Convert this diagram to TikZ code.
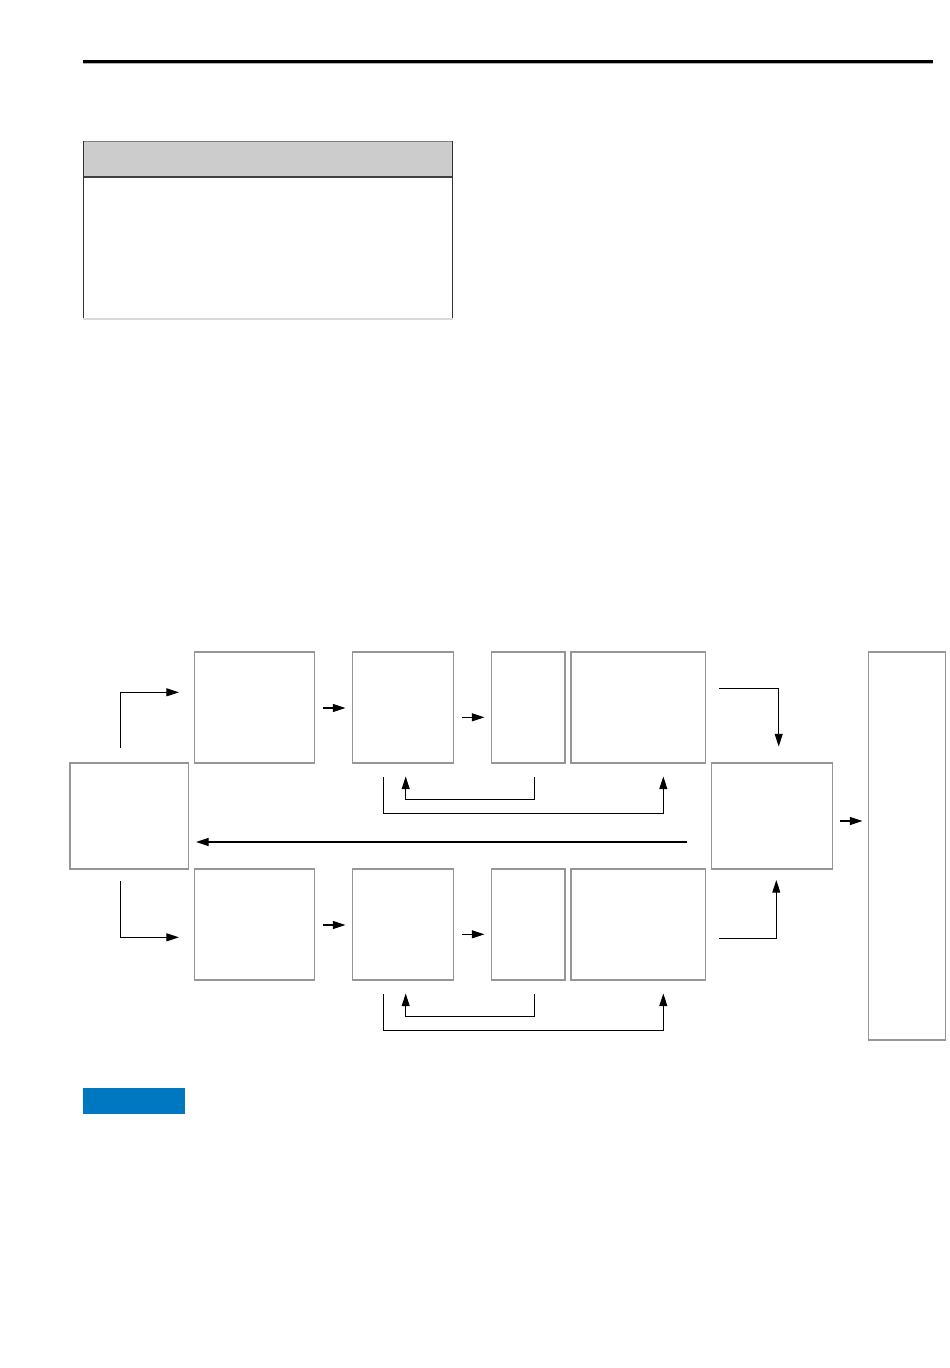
\documentclass[tikz,border=0pt]{standalone}
\usetikzlibrary{arrows.meta,fit}
\definecolor{boxgray}{RGB}{150,150,150}
\definecolor{hdrgray}{RGB}{204,204,204}
\definecolor{bluebar}{RGB}{0,120,193}
\tikzset{
  blk/.style={draw=boxgray, line width=0.9pt, inner sep=0pt, fill=white},
  conn/.style={line width=0.8pt, black},
  arr/.style={conn, -{Triangle[length=9.5pt,width=6pt]}}
}
\begin{document}
\begin{tikzpicture}[x=0.75pt,y=-0.75pt]
\useasboundingbox[fill=white] (0,0) rectangle (950,1368);
% top rule
\fill[black] (83,60) rectangle (933,63);
\fill[gray!60] (83,63) rectangle (933,64);
% table
\fill[hdrgray] (83,141) rectangle (453,177);
\draw[gray, line width=0.8pt] (83,141.5) -- (453,141.5);
\draw[black!75, line width=0.8pt] (83,177) -- (453,177);
\draw[black!80, line width=0.6pt] (83.3,141) -- (83.3,319) (452.7,141) -- (452.7,319);
\draw[black!15, line width=1.5pt] (83,318.5) -- (453,318.5);
% blue bar
\fill[bluebar] (83,1088) rectangle (185,1114);
% boxes
\node[blk, fit={(70,763)(188.5,869)}] (L) {};
\node[blk, fit={(194.7,652)(314.7,763)}] (TA) {};
\node[blk, fit={(352.3,652)(453.3,763)}] (TB) {};
\node[blk, fit={(491.3,652)(565,763)}] (TC) {};
\node[blk, fit={(571,652)(705.3,763)}] (TD) {};
\node[blk, fit={(194.7,869)(314.7,980)}] (BA) {};
\node[blk, fit={(352.3,869)(453.3,980)}] (BB) {};
\node[blk, fit={(491.3,869)(565,980)}] (BC) {};
\node[blk, fit={(571,869)(705.3,980)}] (BD) {};
\node[blk, fit={(711.3,763)(832.3,869)}] (E) {};
\node[blk, fit={(868.7,652)(945.7,1040)}] (F) {};
% connector end coordinates
\coordinate (l1s) at (120.3,748);
\coordinate (l1t) at (179,692.3);
\coordinate (l2s) at (120.3,881);
\coordinate (l2t) at (179,937.3);
\draw[arr] (l1s) |- (l1t);
\draw[arr] (l2s) |- (l2t);
% top row
\coordinate (ab1s) at (323.3,708);  \coordinate (ab1t) at (345.5,708);
\coordinate (bc1s) at (462.3,717.3); \coordinate (bc1t) at (484.5,717.3);
\draw[arr] (ab1s) -- (ab1t);
\draw[arr] (bc1s) -- (bc1t);
% bottom row
\coordinate (ab2s) at (323.3,925);  \coordinate (ab2t) at (345.5,925);
\coordinate (bc2s) at (462.3,934.3); \coordinate (bc2t) at (484.5,934.3);
\draw[arr] (ab2s) -- (ab2t);
\draw[arr] (bc2s) -- (bc2t);
% feedback loops top
\coordinate (fs1s) at (534.3,777.3); \coordinate (fs1m) at (534.3,799.3); \coordinate (fs1t) at (405.7,776.5);
\draw[arr] (fs1s) -- (fs1m) -| (fs1t);
\coordinate (fb1s) at (383.3,777.3); \coordinate (fb1m) at (383.3,813.3); \coordinate (fb1t) at (663.3,776.5);
\draw[arr] (fb1s) -- (fb1m) -| (fb1t);
% feedback loops bottom
\coordinate (fs2s) at (534.3,994.3); \coordinate (fs2m) at (534.3,1016.3); \coordinate (fs2t) at (405.7,993.5);
\draw[arr] (fs2s) -- (fs2m) -| (fs2t);
\coordinate (fb2s) at (383.3,994.3); \coordinate (fb2m) at (383.3,1030.3); \coordinate (fb2t) at (663.3,993.5);
\draw[arr] (fb2s) -- (fb2m) -| (fb2t);
% long return arrow
\coordinate (rets) at (687.3,842); \coordinate (rett) at (196,842);
\draw[arr] (rets) -- (rett);
% D -> E
\coordinate (de1s) at (719.3,688.3); \coordinate (de1t) at (778.7,746.5);
\draw[arr] (de1s) -| (de1t);
\coordinate (de2s) at (719.3,938.3); \coordinate (de2t) at (776.3,880);
\draw[arr] (de2s) -| (de2t);
% E -> F
\coordinate (efs) at (840,821); \coordinate (eft) at (862.5,821);
\draw[arr] (efs) -- (eft);
\end{tikzpicture}
\end{document}
